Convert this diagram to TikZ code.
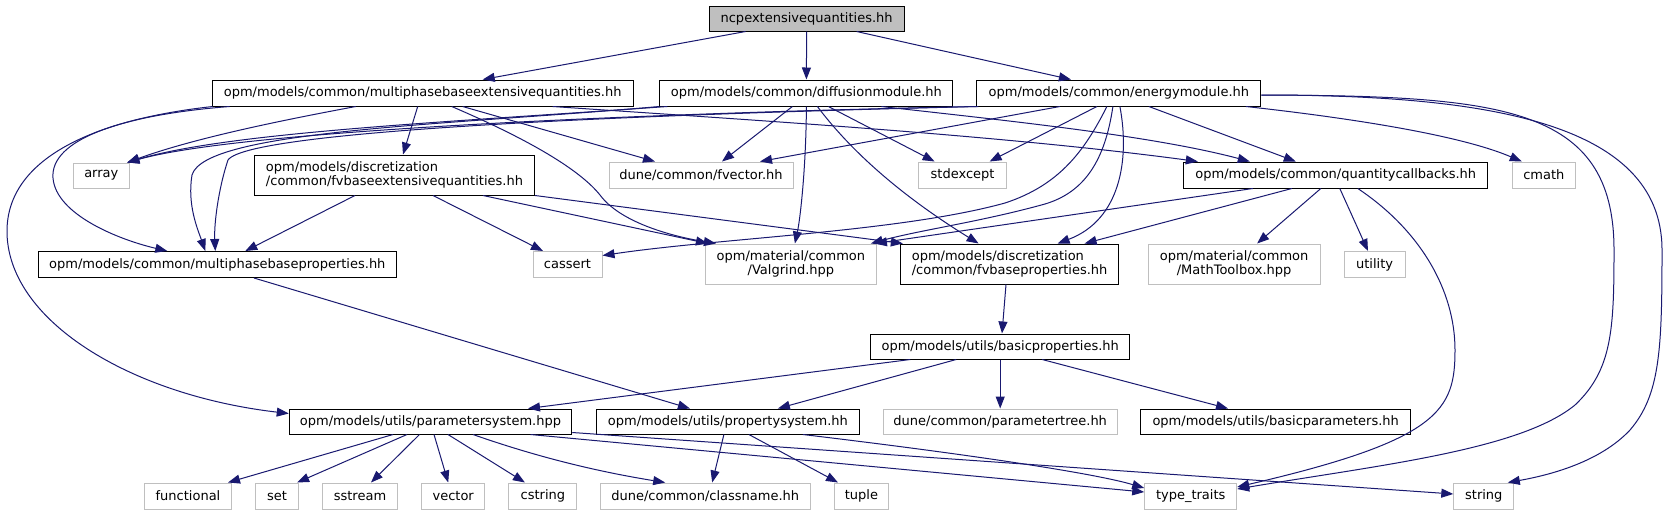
\documentclass[tikz,border=0pt]{standalone}
\usepackage{fontspec}
\setmainfont{DejaVu Sans}
\usetikzlibrary{arrows.meta}
\definecolor{edgec}{HTML}{191970}
\definecolor{extc}{HTML}{BFBFBF}
\newcommand{\nfont}{\fontsize{13}{14}\selectfont}
\begin{document}
\begin{tikzpicture}[x=1pt,y=-1pt,
  box/.style={line width=1pt, inner sep=0pt, minimum height=26pt, font=\nfont},
  docb/.style={box, draw=black, fill=white},
  extb/.style={box, draw=extc, fill=white},
  rootb/.style={box, draw=black, fill=extc},
  edge/.style={draw=edgec, line width=1pt, -{Triangle[length=12pt,width=9pt]}}]
\useasboundingbox (0,0) rectangle (1667,515);
\fill[white] (0,0) rectangle (1667,515);
% nodes
\node[rootb, minimum width=195pt, minimum height=25pt] (ncp) at (806.6,18.5) {ncpextensivequantities.hh};
\node[docb, minimum width=421pt] (mbeq) at (422.7,93) {opm/models/common/multiphasebaseextensivequantities.hh};
\node[docb, minimum width=293pt] (diff) at (806.4,93) {opm/models/common/diffusionmodule.hh};
\node[docb, minimum width=284pt] (energy) at (1118.9,93) {opm/models/common/energymodule.hh};
\node[extb, minimum width=56.5pt, minimum height=25pt] (array) at (101.3,175.5) {array};
\node[docb, minimum width=280pt, minimum height=40pt, align=left] (fvbeq) at (394.5,175) {opm/models/discretization\\/common/fvbaseextensivequantities.hh};
\node[extb, minimum width=184pt] (fvector) at (701,175) {dune/common/fvector.hh};
\node[extb, minimum width=87.5pt] (stdexcept) at (962.6,175) {stdexcept};
\node[docb, minimum width=304pt] (qcb) at (1335.8,175) {opm/models/common/quantitycallbacks.hh};
\node[extb, minimum width=63pt] (cmath) at (1543.8,175) {cmath};
\node[docb, minimum width=358pt] (mbp) at (217.3,264.5) {opm/models/common/multiphasebaseproperties.hh};
\node[extb, minimum width=69pt] (cassert) at (567.5,264.5) {cassert};
\node[extb, minimum width=171pt, minimum height=40pt, align=center] (valgrind) at (790.9,264) {opm/material/common\\/Valgrind.hpp};
\node[docb, minimum width=218.5pt, minimum height=40pt, align=left] (fvbp) at (1009.6,264) {opm/models/discretization\\/common/fvbaseproperties.hh};
\node[extb, minimum width=172pt, minimum height=40pt, align=center] (mathtb) at (1234.1,264) {opm/material/common\\/MathToolbox.hpp};
\node[extb, minimum width=61pt] (utility) at (1374.6,264.5) {utility};
\node[docb, minimum width=259pt, minimum height=25pt] (basicprop) at (1000.2,346.5) {opm/models/utils/basicproperties.hh};
\node[docb, minimum width=282.5pt, minimum height=25pt] (paramsys) at (430.5,421.5) {opm/models/utils/parametersystem.hpp};
\node[docb, minimum width=263pt, minimum height=25pt] (propsys) at (727.9,421.5) {opm/models/utils/propertysystem.hh};
\node[extb, minimum width=234pt, minimum height=25pt] (paramtree) at (1000.2,421.5) {dune/common/parametertree.hh};
\node[docb, minimum width=270pt, minimum height=25pt] (basicparams) at (1275.7,421.5) {opm/models/utils/basicparameters.hh};
\node[extb, minimum width=87pt] (functional) at (188,496) {functional};
\node[extb, minimum width=43pt] (set) at (277.1,496) {set};
\node[extb, minimum width=75pt] (sstream) at (360,496) {sstream};
\node[extb, minimum width=63pt] (vector) at (453.2,496) {vector};
\node[extb, minimum width=68pt] (cstring) at (542.9,496) {cstring};
\node[extb, minimum width=210pt] (classname) at (705.2,496) {dune/common/classname.hh};
\node[extb, minimum width=54pt] (tuple) at (861.4,496) {tuple};
\node[extb, minimum width=92pt] (typetraits) at (1190.7,496) {type\_traits};
\node[extb, minimum width=60pt] (string) at (1483.8,496) {string};
% edges from root
\draw[edge] ([xshift=-61]ncp.south) -- ([xshift=60]mbeq.north);
\draw[edge] (ncp.south) -- (diff.north);
\draw[edge] ([xshift=50]ncp.south) -- ([xshift=-48]energy.north);
% mbeq
\draw[edge] ([xshift=-67]mbeq.south) .. controls (300,117) and (200,136) .. ([xshift=26]array.north);
\draw[edge] ([xshift=-193]mbeq.south) .. controls (120,115) and (50,140) .. (53,178) .. controls (56,215) and (120,240) .. ([xshift=-50]mbp.north);
\draw[edge] ([xshift=1]mbeq.south west) .. controls (90,120) and (8,160) .. (7,230) .. controls (6,320) and (130,395) .. ([yshift=8]paramsys.west);
\draw[edge] ([xshift=-5]mbeq.south) -- ([xshift=8.5]fvbeq.north);
\draw[edge] ([xshift=40]mbeq.south) -- ([xshift=-46]fvector.north);
\draw[edge] ([xshift=29]mbeq.south) .. controls (530,140) and (580,170) .. (600,195) .. controls (620,222) and (670,236) .. ([xshift=-75]valgrind.north);
\draw[edge] ([xshift=130]mbeq.south) .. controls (750,120) and (1000,135) .. ([xshift=-138]qcb.north);
% diff
\draw[edge] ([xshift=-139]diff.south) .. controls (450,122) and (230,132) .. ([xshift=26]array.north);
\draw[edge] (diff.south west) .. controls (450,125) and (205,130) .. (192,175) .. controls (187,205) and (198,230) .. ([xshift=-12]mbp.north);
\draw[edge] ([xshift=-14]diff.south) -- ([xshift=21]fvector.north);
\draw[edge] (diff.south) .. controls (806,170) and (800,220) .. ([xshift=4]valgrind.north);
\draw[edge] ([xshift=11]diff.south) .. controls (850,150) and (900,195) .. ([xshift=-31]fvbp.north);
\draw[edge] ([xshift=22]diff.south) -- ([xshift=-28]stdexcept.north);
\draw[edge] ([xshift=75]diff.south) .. controls (1000,120) and (1150,135) .. ([xshift=-86]qcb.north);
% energy
\draw[edge] (energy.south west) .. controls (700,112) and (250,128) .. ([xshift=26]array.north);
\draw[edge] ([xshift=2]energy.south west) .. controls (700,113) and (250,128) .. (228,160) .. controls (218,190) and (214,225) .. ([xshift=-2]mbp.north);
\draw[edge] ([xshift=-59]energy.south) -- ([xshift=59]fvector.north);
\draw[edge] ([xshift=-22]energy.south) -- ([xshift=27]stdexcept.north);
\draw[edge] ([xshift=-12]energy.south) .. controls (1085,150) and (1060,185) .. (1005,203) .. controls (900,232) and (720,238) .. ([yshift=9]cassert.east);
\draw[edge] ([xshift=-6]energy.south) .. controls (1105,160) and (1085,192) .. (1045,204) .. controls (980,222) and (920,230) .. ([xshift=80]valgrind.north);
\draw[edge] ([xshift=1]energy.south) .. controls (1130,160) and (1120,220) .. ([xshift=48]fvbp.north);
\draw[edge] ([xshift=30]energy.south) -- ([xshift=-40]qcb.north);
\draw[edge] ([xshift=127]energy.south) .. controls (1350,118) and (1460,135) .. ([xshift=-22]cmath.north);
\draw[edge] ([yshift=-2]energy.east) .. controls (1500,96) and (1614,105) .. (1614,250) .. controls (1614,330) and (1612,370) .. (1575,405) .. controls (1520,450) and (1380,465) .. ([yshift=7]typetraits.east);
\draw[edge] ([yshift=-2]energy.east) .. controls (1480,95) and (1662,120) .. (1662,250) .. controls (1662,350) and (1660,395) .. (1630,430) .. controls (1600,462) and (1550,475) .. ([xshift=24]string.north);
% qcb
\draw[edge] ([xshift=-83]qcb.south) -- ([xshift=84]valgrind.north);
\draw[edge] ([xshift=-44]qcb.south) -- ([xshift=75]fvbp.north);
\draw[edge] ([xshift=-15]qcb.south) -- ([xshift=23]mathtb.north);
\draw[edge] ([xshift=4]qcb.south) -- ([xshift=-6.6]utility.north);
\draw[edge] ([xshift=22]qcb.south) .. controls (1420,230) and (1455,290) .. (1455,350) .. controls (1455,410) and (1440,440) .. ([yshift=9]typetraits.east);
% fvbeq
\draw[edge] ([xshift=-39.5]fvbeq.south) -- ([xshift=28]mbp.north);
\draw[edge] ([xshift=38.5]fvbeq.south) -- ([xshift=-24.5]cassert.north);
\draw[edge] ([xshift=88.5]fvbeq.south) -- ([xshift=-83]valgrind.north);
\draw[edge] (fvbeq.south east) -- ([xshift=3]fvbp.north west);
% lower
\draw[edge] ([xshift=36.7]mbp.south) -- ([xshift=-38]propsys.north);
\draw[edge] ([xshift=-3.6]fvbp.south) -- ([xshift=1.8]basicprop.north);
\draw[edge] ([xshift=-90]basicprop.south) -- ([xshift=97.5]paramsys.north);
\draw[edge] ([xshift=-44]basicprop.south) -- ([xshift=50]propsys.north);
\draw[edge] (basicprop.south) -- (paramtree.north);
\draw[edge] ([xshift=42]basicprop.south) -- ([xshift=-47.7]basicparams.north);
\draw[edge] ([xshift=-37.5]paramsys.south) -- ([xshift=40]functional.north);
\draw[edge] ([xshift=-23.5]paramsys.south) -- ([xshift=20]set.north);
\draw[edge] ([xshift=-11]paramsys.south) -- ([xshift=11]sstream.north);
\draw[edge] ([xshift=3.5]paramsys.south) -- ([xshift=-5]vector.north);
\draw[edge] ([xshift=17.5]paramsys.south) -- ([xshift=-18]cstring.north);
\draw[edge] ([xshift=42.5]paramsys.south) .. controls (540,458) and (600,472) .. ([xshift=-40]classname.north);
\draw[edge] ([xshift=100]paramsys.south) -- ([yshift=4]typetraits.west);
\draw[edge] ([yshift=-11]paramsys.east) -- ([yshift=2]string.west);
\draw[edge] ([xshift=-4]propsys.south) -- ([xshift=7]classname.north);
\draw[edge] ([xshift=21]propsys.south) -- ([xshift=-23.4]tuple.north);
\draw[edge] ([xshift=75]propsys.south) .. controls (950,452) and (1090,472) .. ([yshift=8]typetraits.west);
\end{tikzpicture}
\end{document}
